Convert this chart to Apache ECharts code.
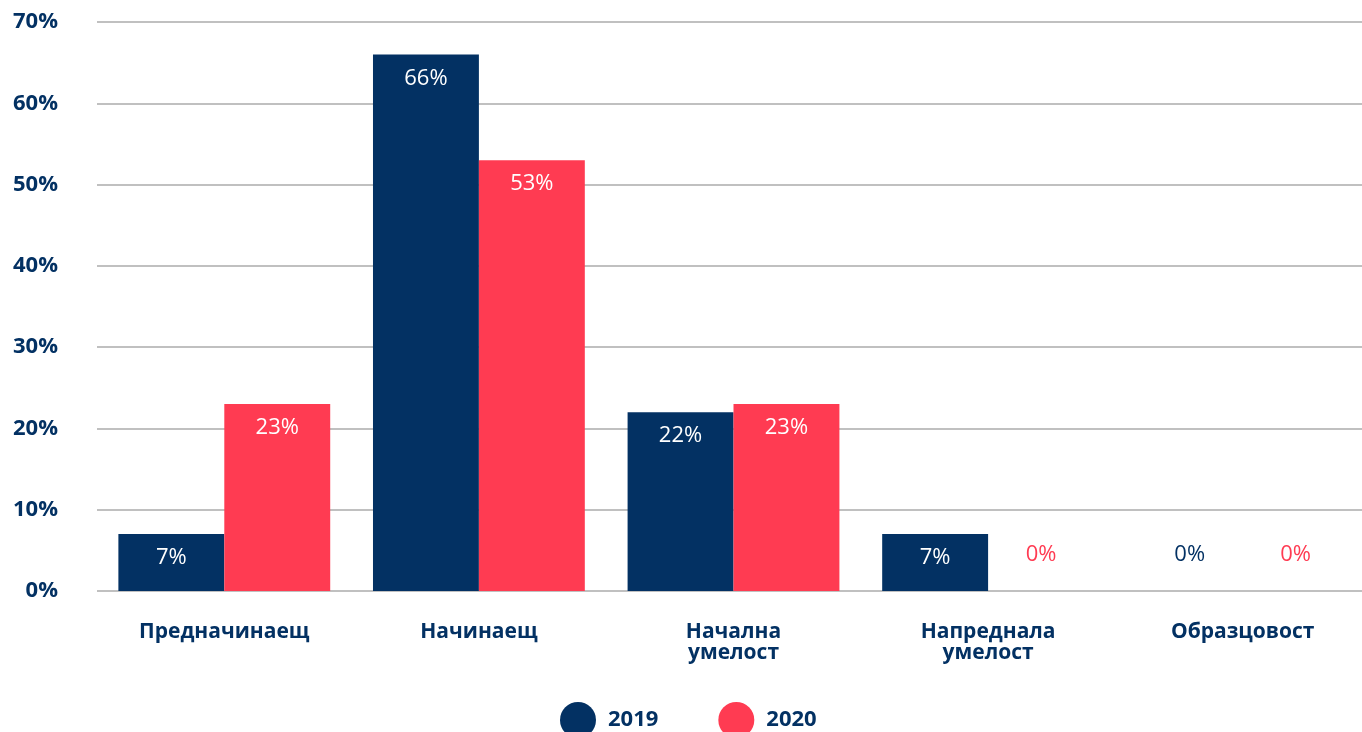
<!DOCTYPE html>
<html><head><meta charset="utf-8">
<script src="https://cdn.jsdelivr.net/npm/echarts@6/dist/echarts.min.js"></script>
<style>html,body{margin:0;padding:0;background:#fff}#c{width:1362px;height:732px}</style>
</head><body><div id="c"></div>
<script>
const categories = ['Предначинаещ', 'Начинаещ', 'Начална\nумелост', 'Напреднала\nумелост', 'Образцовост'];
const series2019 = [7, 66, 22, 7, 0];
const series2020 = [23, 53, 23, 0, 0];
const seriesNames = ['2019', '2020'];
const colors = ['#033163', '#FF3B52'];
const FONT = '"Open Sans", "Noto Sans", sans-serif';

function mkData(arr, color) {
  return arr.map(v => v === 0 ? {
    value: v,
    label: { position: 'top', distance: 25, color: color }
  } : v);
}
function mkSeries(name, arr, color) {
  return {
    name: name, type: 'bar', data: mkData(arr, color),
    barCategoryGap: '16.8%', barGap: '0%',
    itemStyle: { color: color },
    label: {
      show: true, position: 'insideTop', distance: 13, color: '#fff',
      fontFamily: FONT, fontSize: 22, formatter: '{c}%'
    }
  };
}
const chart = echarts.init(document.getElementById('c'));
chart.setOption({
  animation: false,
  textStyle: { fontFamily: FONT },
  grid: { left: 97, width: 1273, top: 22, bottom: 141, outerBoundsMode: 'none', containLabel: false },
  legend: {
    data: seriesNames, left: 555, top: 697, icon: 'circle',
    itemWidth: 36, itemHeight: 36, itemGap: 60,
    textStyle: { color: '#033163', fontFamily: FONT, fontSize: 22, fontWeight: 'bold', padding: [0, 0, 0, 7] }
  },
  xAxis: {
    type: 'category', data: categories,
    axisLine: { show: false }, axisTick: { show: false },
    axisLabel: { color: '#033163', fontFamily: FONT, fontSize: 21, fontWeight: 'bold', margin: 31, lineHeight: 21, interval: 0 }
  },
  yAxis: {
    type: 'value', min: 0, max: 70, interval: 10,
    axisLabel: { color: '#033163', fontFamily: FONT, fontSize: 22, fontWeight: 'bold', formatter: '{value}%', margin: 39 },
    splitLine: { lineStyle: { color: '#c0c0c0', width: 2 } },
    axisLine: { show: false }, axisTick: { show: false }
  },
  series: [mkSeries(seriesNames[0], series2019, colors[0]), mkSeries(seriesNames[1], series2020, colors[1])]
});
</script></body></html>
